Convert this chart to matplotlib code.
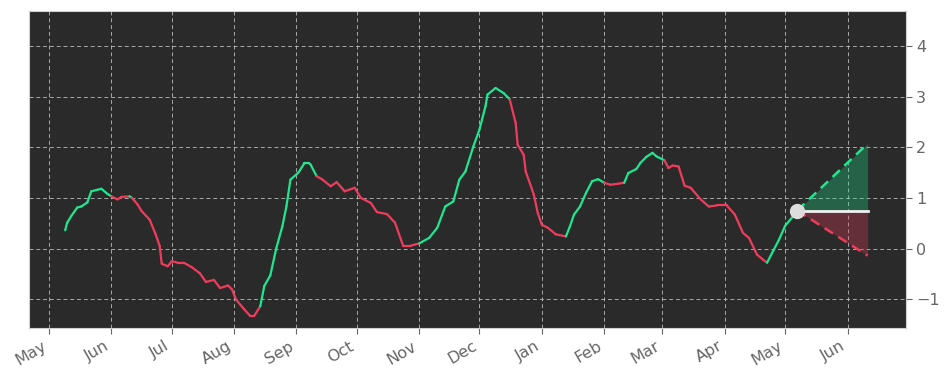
import matplotlib
matplotlib.use('Agg')
import matplotlib.pyplot as plt
import matplotlib.dates as mdates
from matplotlib.collections import LineCollection
import numpy as np
import pandas as pd

# indicator line
dates = [
    "2023-05-09", "2023-05-10", "2023-05-12", "2023-05-15", "2023-05-17", "2023-05-20", "2023-05-22", "2023-05-25", "2023-05-27", "2023-05-30",
    "2023-06-01", "2023-06-04", "2023-06-06", "2023-06-10", "2023-06-11", "2023-06-14", "2023-06-16", "2023-06-20", "2023-06-23", "2023-06-25", "2023-06-26", "2023-06-29",
    "2023-07-01", "2023-07-04", "2023-07-07", "2023-07-11", "2023-07-15", "2023-07-18", "2023-07-22", "2023-07-25", "2023-07-29", "2023-07-31",
    "2023-08-02", "2023-08-06", "2023-08-09", "2023-08-11", "2023-08-14", "2023-08-16", "2023-08-19", "2023-08-22", "2023-08-25", "2023-08-27", "2023-08-29",
    "2023-09-02", "2023-09-05", "2023-09-07", "2023-09-08", "2023-09-11", "2023-09-14", "2023-09-18", "2023-09-21", "2023-09-25", "2023-09-30",
    "2023-10-03", "2023-10-08", "2023-10-11", "2023-10-16", "2023-10-20", "2023-10-24", "2023-10-28",
    "2023-11-01", "2023-11-06", "2023-11-10", "2023-11-14", "2023-11-18", "2023-11-21", "2023-11-24", "2023-11-28",
    "2023-12-01", "2023-12-04", "2023-12-05", "2023-12-09", "2023-12-13", "2023-12-16", "2023-12-19", "2023-12-20", "2023-12-23", "2023-12-24", "2023-12-28", "2023-12-30",
    "2024-01-01", "2024-01-04", "2024-01-08", "2024-01-13", "2024-01-15", "2024-01-17", "2024-01-20", "2024-01-23", "2024-01-26", "2024-01-29",
    "2024-02-01", "2024-02-04", "2024-02-08", "2024-02-11", "2024-02-13", "2024-02-17", "2024-02-19", "2024-02-22", "2024-02-25", "2024-02-27",
    "2024-03-02", "2024-03-04", "2024-03-06", "2024-03-09", "2024-03-12", "2024-03-15", "2024-03-20", "2024-03-24", "2024-03-28",
    "2024-04-02", "2024-04-06", "2024-04-10", "2024-04-13", "2024-04-17", "2024-04-20", "2024-04-22", "2024-04-25", "2024-04-28",
    "2024-05-01", "2024-05-05", "2024-05-07",
]
values = [
    0.36, 0.51, 0.64, 0.81, 0.83, 0.91, 1.13, 1.16, 1.18, 1.08,
    1.03, 0.97, 1.02, 1.03, 1.01, 0.87, 0.74, 0.57, 0.28, 0.05, -0.30, -0.35,
    -0.25, -0.28, -0.28, -0.37, -0.49, -0.66, -0.62, -0.78, -0.73, -0.81,
    -1.01, -1.20, -1.33, -1.33, -1.14, -0.74, -0.53, 0.01, 0.44, 0.83, 1.36,
    1.50, 1.69, 1.69, 1.66, 1.43, 1.36, 1.23, 1.31, 1.13, 1.20,
    1.00, 0.90, 0.72, 0.68, 0.51, 0.06, 0.06,
    0.10, 0.21, 0.41, 0.83, 0.93, 1.36, 1.52, 2.02,
    2.35, 2.81, 3.04, 3.17, 3.07, 2.95, 2.48, 2.05, 1.85, 1.52, 1.07, 0.70,
    0.47, 0.41, 0.28, 0.24, 0.44, 0.67, 0.83, 1.10, 1.33, 1.37,
    1.30, 1.26, 1.28, 1.30, 1.49, 1.57, 1.69, 1.81, 1.89, 1.82,
    1.74, 1.59, 1.64, 1.62, 1.24, 1.20, 0.97, 0.83, 0.85,
    0.85, 0.67, 0.31, 0.21, -0.12, -0.22, -0.28, -0.05, 0.18,
    0.45, 0.64, 0.75,
]

# stretches where the line is drawn green (up trend), the rest is red
up_start = ["2023-05-01", "2023-06-10", "2023-08-13", "2023-11-03", "2024-01-14", "2024-02-11", "2024-04-23"]
up_end = ["2023-06-01", "2023-06-12", "2023-09-10", "2023-12-15", "2024-02-01", "2024-03-01", "2024-05-08"]

# projection cone
forecast_end = "2024-06-11"
forecast_upper = 2.07
forecast_lower = -0.14

GREEN = '#1fe68f'
RED = '#ee3d5c'

df = pd.DataFrame({'value': values}, index=pd.to_datetime(dates))

fig = plt.figure(figsize=(9.5, 3.81), dpi=100)
ax = fig.add_axes([0.0305, 0.139, 0.923, 0.832])
ax.set_facecolor('#2a2a2a')

x = mdates.date2num(df.index.to_pydatetime())
y = df['value'].values
pts = np.column_stack([x, y]).reshape(-1, 1, 2)
segs = np.concatenate([pts[:-1], pts[1:]], axis=1)

starts = mdates.date2num(pd.to_datetime(up_start).to_pydatetime())
ends = mdates.date2num(pd.to_datetime(up_end).to_pydatetime())
cols = []
for seg in segs:
    mid = (seg[0, 0] + seg[1, 0]) / 2
    up = any((mid >= s) and (mid <= e) for s, e in zip(starts, ends))
    cols.append(GREEN if up else RED)
lc = LineCollection(segs, colors=cols, linewidths=1.6, capstyle='round', joinstyle='round', zorder=3)
ax.add_collection(lc)

# cone
last_date = df.index[-1]
last_val = y[-1]
end_date = pd.Timestamp(forecast_end)
fx = mdates.date2num([last_date.to_pydatetime(), end_date.to_pydatetime()])
ax.fill_between(fx, [last_val, last_val], [last_val, forecast_upper], color=GREEN, alpha=0.3, lw=0, zorder=2)
ax.fill_between(fx, [last_val, last_val], [last_val, forecast_lower], color=RED, alpha=0.3, lw=0, zorder=2)
ax.plot(fx, [last_val, forecast_upper], color=GREEN, lw=1.8, ls=(0, (4, 2.5)), zorder=3)
ax.plot(fx, [last_val, forecast_lower], color=RED, lw=1.8, ls=(0, (4, 2.5)), zorder=3)
ax.plot(fx, [last_val, last_val], color='#f0f0f0', lw=2, zorder=3)
ax.plot(fx[0], last_val, 'o', color='#dddddd', markersize=10, zorder=4)

ax.set_xlim(pd.Timestamp('2023-04-21'), pd.Timestamp('2024-06-30'))
ax.set_ylim(-1.57, 4.69)
ax.xaxis.set_major_locator(mdates.MonthLocator())
ax.xaxis.set_major_formatter(mdates.DateFormatter('%b'))
ax.yaxis.tick_right()
ax.set_yticks([-1, 0, 1, 2, 3, 4])

ax.grid(True, color='#c8c8c8', ls=(0, (4, 3)), lw=0.7, alpha=0.8)
ax.set_axisbelow(True)
for s in ax.spines.values():
    s.set_color('#d0d0d0')
ax.tick_params(colors='#666666', labelsize=11.5, length=4, width=0.8)
for lbl in ax.get_xticklabels():
    lbl.set_rotation(30)
    lbl.set_ha('right')

fig.savefig('out.png', dpi=100, facecolor='white')
